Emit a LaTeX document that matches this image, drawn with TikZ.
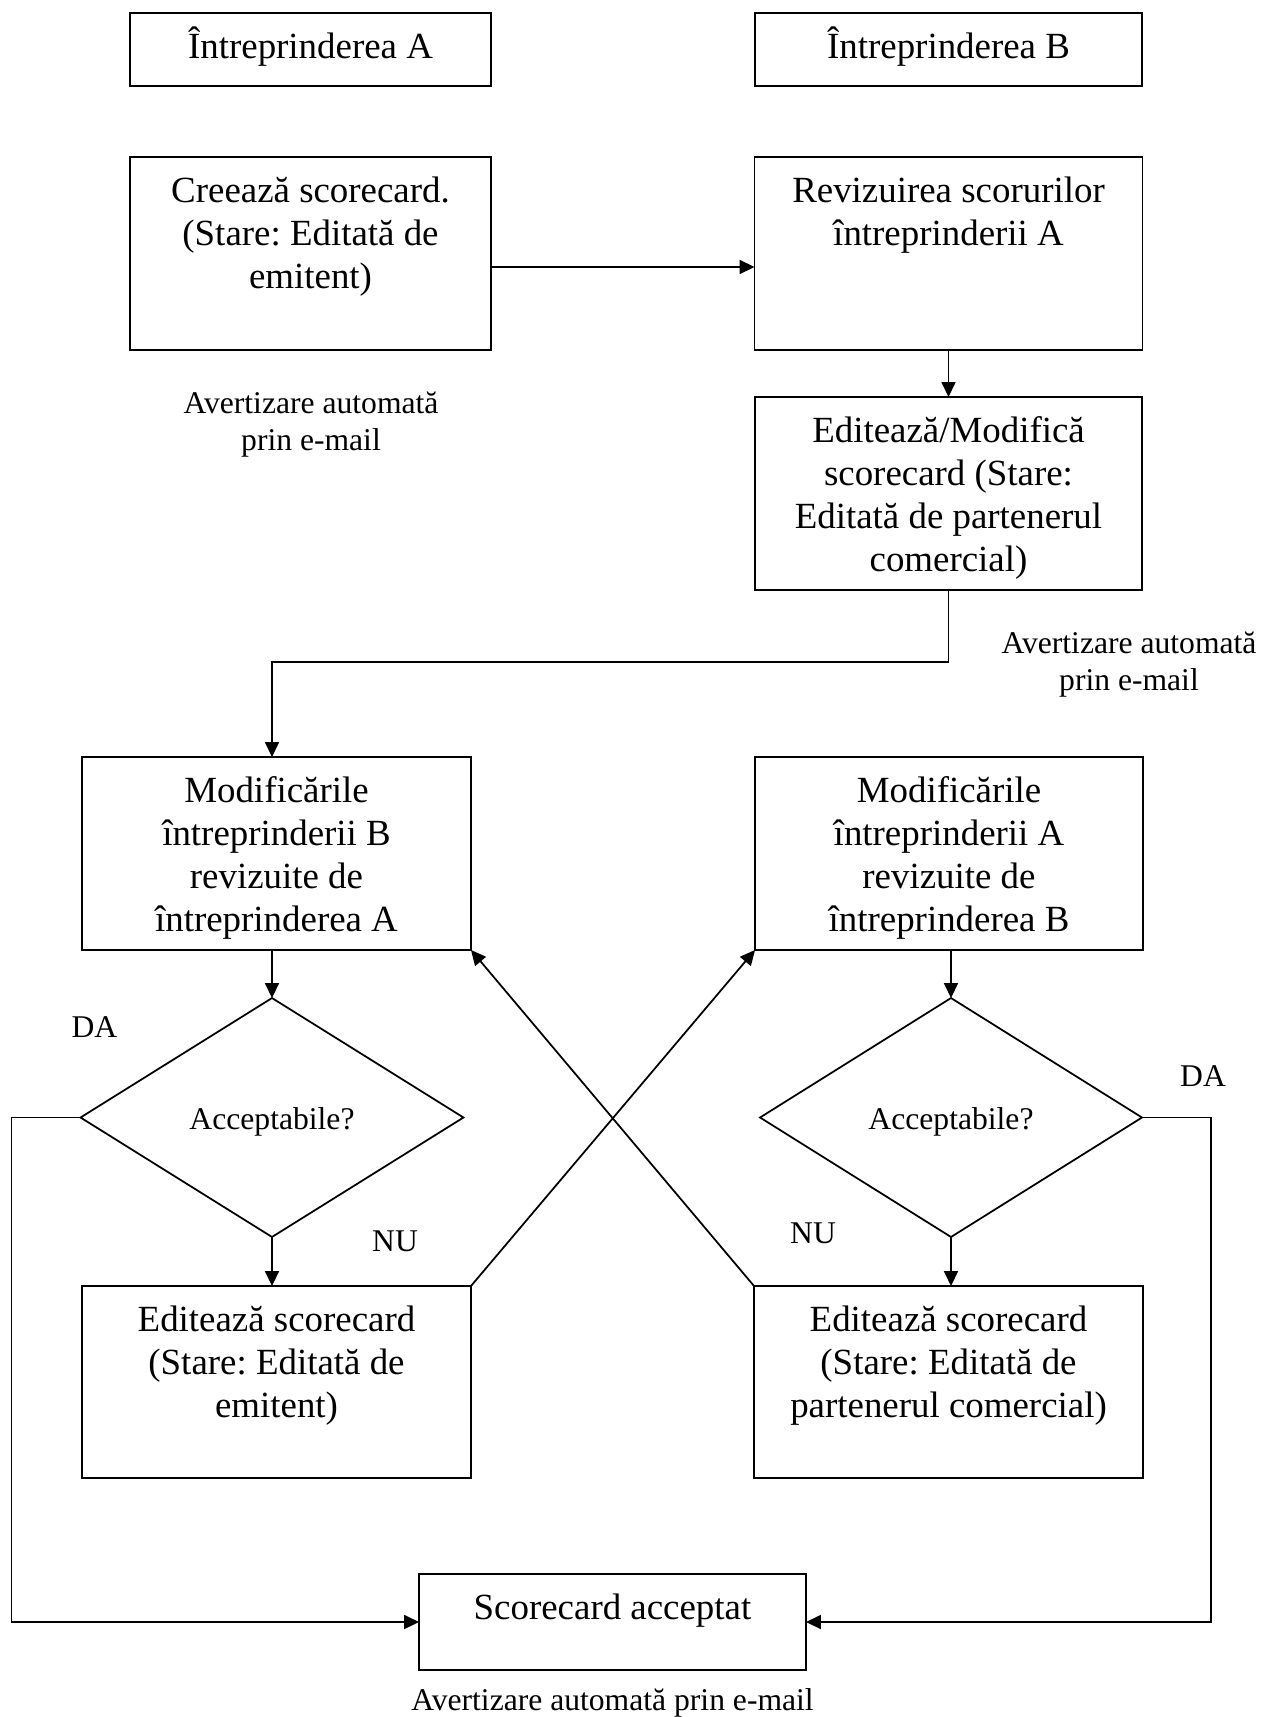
\documentclass[tikz,border=0pt]{standalone}
\usepackage{fontspec}
\setmainfont{Liberation Serif}
\usetikzlibrary{shapes.geometric,arrows.meta}
\frenchspacing

% type sizes and a strut that fixes the first baseline of box texts
\newcommand{\bigtxt}{\fontsize{21}{24.5}\selectfont}
\newcommand{\smalltxt}{\fontsize{18}{21}\selectfont}
\newcommand{\firstline}{\rule{0pt}{19pt}}
\newcommand{\firstsmall}{\rule{0pt}{16pt}}

\begin{document}
\begin{tikzpicture}[x=0.02cm, y=-0.02cm,
  box/.style={draw, line width=1pt, rectangle, inner sep=0pt, outer sep=0pt},
  decision/.style={draw, line width=1pt, diamond, inner sep=0pt, outer sep=0pt,
    font=\smalltxt, text height=18pt, text depth=4pt},
  boxtext/.style={anchor=north, yshift=-6.6pt, align=center, inner sep=0pt, font=\bigtxt},
  notetext/.style={anchor=north, yshift=16pt, align=center, inner sep=0pt, font=\smalltxt},
  answer/.style={anchor=base, inner sep=0pt, font=\smalltxt},
  linkline/.style={line width=1pt},
  arrowline/.style={linkline, -{Triangle[length=0.3cm, width=0.28cm]}}
]
\useasboundingbox (0,0) rectangle (1264,1717);

% column headers
\node[box, minimum width=7.22cm, minimum height=1.46cm] (entA) at (310.5,49.5) {};
\node[boxtext] (entAtxt) at (entA.north) {\firstline Întreprinderea A};
\node[box, minimum width=7.74cm, minimum height=1.46cm] (entB) at (948.5,49.5) {};
\node[boxtext] (entBtxt) at (entB.north) {\firstline Întreprinderea B};

% first steps
\node[box, minimum width=7.22cm, minimum height=3.86cm] (cre) at (310.5,253.5) {};
\node[boxtext] (cretxt) at (cre.north) {\firstline Creează scorecard.\\(Stare: Editată de\\emitent)};
\node[box, minimum width=7.76cm, minimum height=3.86cm] (rev) at (948.5,253.5) {};
\node[boxtext] (revtxt) at (rev.north) {\firstline Revizuirea scorurilor\\întreprinderii A};
\node[box, minimum width=7.74cm, minimum height=3.86cm] (edm) at (948.5,493.5) {};
\node[boxtext] (edmtxt) at (edm.north) {\firstline Editează/Modifică\\scorecard (Stare:\\Editată de partenerul\\comercial)};

% review of the other side's changes
\node[box, minimum width=7.78cm, minimum height=3.86cm] (modB) at (276.5,853.5) {};
\node[boxtext] (modBtxt) at (modB.north) {\firstline Modificările\\întreprinderii B\\revizuite de\\întreprinderea A};
\node[box, minimum width=7.76cm, minimum height=3.86cm] (modA) at (949,853.5) {};
\node[boxtext] (modAtxt) at (modA.north) {\firstline Modificările\\întreprinderii A\\revizuite de\\întreprinderea B};

% decisions
\node[decision, minimum width=7.66cm, minimum height=4.78cm] (dL) at (272,1117.5) {Acceptabile?};
\node[decision, minimum width=7.64cm, minimum height=4.78cm] (dR) at (951,1117.5) {Acceptabile?};

% editing steps
\node[box, minimum width=7.78cm, minimum height=3.84cm] (editL) at (276.5,1382) {};
\node[boxtext] (editLtxt) at (editL.north) {\firstline Editează scorecard\\(Stare: Editată de\\emitent)};
\node[box, minimum width=7.78cm, minimum height=3.84cm] (editR) at (948.5,1382) {};
\node[boxtext] (editRtxt) at (editR.north) {\firstline Editează scorecard\\(Stare: Editată de\\partenerul comercial)};

% final state
\node[box, minimum width=7.74cm, minimum height=1.92cm] (acc) at (612.5,1622) {};
\node[boxtext] (acctxt) at (acc.north) {\firstline Scorecard acceptat};

% e-mail notes and answers
\node[notetext] (mail1) at (311,413) {\firstsmall Avertizare automată\\prin e-mail};
\node[notetext] (mail2) at (1129,653) {\firstsmall Avertizare automată\\prin e-mail};
\node[answer] (mail3) at (612.5,1710) {Avertizare automată prin e-mail};
\node[answer] (daL) at (94.5,1037) {DA};
\node[answer] (nuL) at (395,1251) {NU};
\node[answer] (nuR) at (813,1243) {NU};
\node[answer] (daR) at (1203,1086) {DA};

% connectors
\draw[arrowline] ([yshift=-0.27cm]cre.east) -- ([yshift=-0.27cm]rev.west);
\draw[arrowline] (rev.south) -- (edm.north);
\draw[arrowline] (edm.south) -- ++(0,72) -| (dL.north |- modB.north);
\draw[arrowline] (dL.north |- modB.south) -- (dL.north);
\draw[arrowline] (dL.south) -- (dL.south |- editL.north);
\draw[arrowline] (dR.north |- modA.south) -- (dR.north);
\draw[arrowline] (dR.south) -- (dR.south |- editR.north);
\draw[arrowline] (dL.west) -- ++(-69,0) |- (acc.west);
\draw[arrowline] (dR.east) -- ++(69,0) |- (acc.east);
\draw[arrowline] (editL.north east) -- (modA.south west);
\draw[arrowline] (editR.north west) -- (modB.south east);
\end{tikzpicture}
\end{document}
